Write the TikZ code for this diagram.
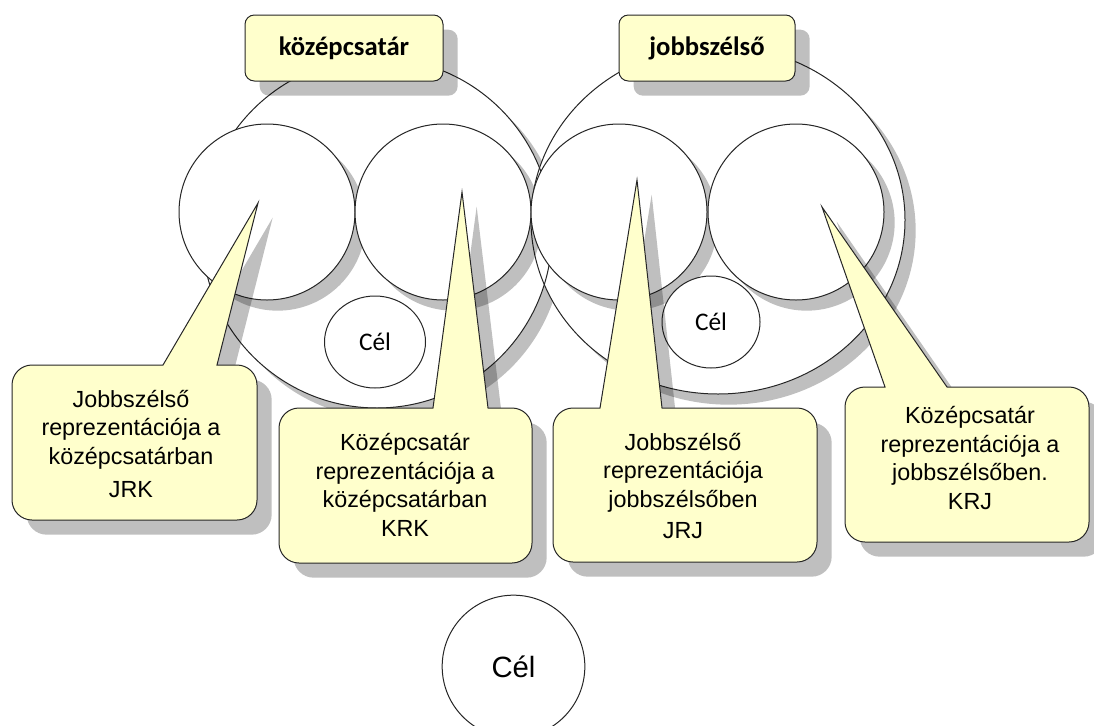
\documentclass[tikz,border=0pt]{standalone}
\usepackage{fontspec}
\usepackage{xcolor}
\usepackage{tikz}
\usetikzlibrary{calc}
\usetikzlibrary{shadows,shapes.geometric}
\newfontfamily\arialfont{Liberation Sans}
\newfontfamily\calibrifont{Carlito}
\definecolor{calloutyellow}{HTML}{FFFFCC}
% x0, ytop, x1, ybottom, base left, base right, tip
\newcommand{\CalloutPath}[7]{(#1,#2+20) arc[start angle=180,end angle=90,radius=15pt] -- (#5,#2) -- #7 -- (#6,#2) -- (#3-20,#2) arc[start angle=90,end angle=0,radius=15pt] -- (#3,#4-20) arc[start angle=0,end angle=-90,radius=15pt] -- (#1+20,#4) arc[start angle=-90,end angle=-180,radius=15pt] -- cycle}

\begin{document}
\begin{tikzpicture}[
		x=0.75pt, y=-0.75pt,
		Outline/.style={draw=black!85, line width=0.75pt},
		MyShadow/.style={drop shadow={shadow xshift=8pt, shadow yshift=-8pt, opacity=.25, fill=black}},
		BoxShadow/.style={drop shadow={shadow xshift=11pt, shadow yshift=-11pt, opacity=.25, fill=black}},
		BigCircles/.style={fill=white, MyShadow},
		SmallCircles/.style={Outline, fill=white, MyShadow},
		CelCircles/.style={Outline, fill=white, ellipse, inner sep=0pt, font=\calibrifont\fontsize{19}{19}\selectfont},
		TitleBoxes/.style={Outline, fill=calloutyellow, rounded corners=7pt, minimum height=49.5pt, font=\calibrifont\bfseries\fontsize{20}{20}\selectfont, BoxShadow},
		Callouts/.style={Outline, fill=calloutyellow, BoxShadow},
		CalloutTexts/.style={align=center, font=\arialfont\fontsize{17.5}{21.4}\selectfont}
		]
		\useasboundingbox (0,0) rectangle (1094,725);
		\clip (0,0) rectangle (1094,725);
		
		\coordinate (bigK) at (377,233);
		\coordinate (bigJ) at (718,220);
		
		% the two players
		\fill[BigCircles] (bigK) circle (175);
		\fill[BigCircles] (bigJ) ellipse [x radius=187, y radius=174];
		\draw[Outline] (bigK) circle (175);
		\draw[Outline] (bigJ) ellipse [x radius=187, y radius=174];
		
		% representations
		\foreach \n/\x in {JRK/267, KRK/443, JRJ/619, KRJ/796}
		\draw[SmallCircles] (\x,212) circle (88);
		
		\node[CelCircles, minimum width=75.75pt, minimum height=69pt] (celK) at (375,342) {Cél};
		\node[CelCircles, minimum width=73.5pt, minimum height=69pt] (celJ) at (711,322) {Cél};
		
		\node[TitleBoxes, minimum width=148.5pt] (kozep) at (344,48) {középcsatár};
		\node[TitleBoxes, minimum width=132pt] (jobb) at (707,48) {jobbszélső};
		
		\coordinate (tipJRK) at (258,203);
		\coordinate (tipKRK) at (462,192);
		\coordinate (tipJRJ) at (637,180);
		\coordinate (tipKRJ) at (822,207);
		
		\draw[Callouts] \CalloutPath{12}{365}{257}{520}{163}{217}{(tipJRK)};
		\draw[Callouts] \CalloutPath{279}{408}{532}{563}{433}{488}{(tipKRK)};
		\draw[Callouts] \CalloutPath{553}{408}{817}{562}{600}{662}{(tipJRJ)};
		\draw[Callouts] \CalloutPath{845}{387}{1089}{542}{885}{947}{(tipKRJ)};
		
		\node[CalloutTexts] (txtJRK) at (131,444) {Jobbszélső\\reprezentációja a\\középcsatárban\\[4pt]JRK};
		\node[CalloutTexts] (txtKRK) at (405,485) {Középcsatár\\reprezentációja a\\középcsatárban\\KRK};
		\node[CalloutTexts] (txtJRJ) at (683,486) {Jobbszélső\\reprezentációja\\jobbszélsőben\\[2pt]JRJ};
		\node[CalloutTexts] (txtKRJ) at (970,458) {Középcsatár\\reprezentációja a\\jobbszélsőben.\\KRJ};
		
		% the common goal
		\node[Outline, fill=white, circle, minimum size=107pt, inner sep=0pt, font=\arialfont\fontsize{22}{22}\selectfont] (cel) at (513.5,666.5) {Cél};
		
		\end{tikzpicture}
\end{document}
